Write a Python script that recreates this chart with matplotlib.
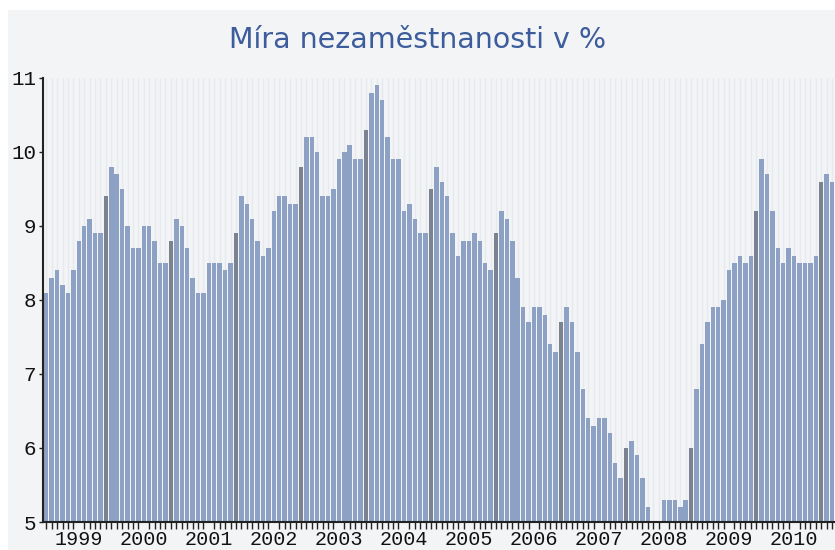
import numpy as np
import matplotlib.pyplot as plt

# monthly unemployment rate (%), Jan 1999 .. Feb 2011
rate_1999 = [8.1, 8.3, 8.4, 8.2, 8.1, 8.4, 8.8, 9.0, 9.1, 8.9, 8.9, 9.4]
rate_2000 = [9.8, 9.7, 9.5, 9.0, 8.7, 8.7, 9.0, 9.0, 8.8, 8.5, 8.5, 8.8]
rate_2001 = [9.1, 9.0, 8.7, 8.3, 8.1, 8.1, 8.5, 8.5, 8.5, 8.4, 8.5, 8.9]
rate_2002 = [9.4, 9.3, 9.1, 8.8, 8.6, 8.7, 9.2, 9.4, 9.4, 9.3, 9.3, 9.8]
rate_2003 = [10.2, 10.2, 10.0, 9.4, 9.4, 9.5, 9.9, 10.0, 10.1, 9.9, 9.9, 10.3]
rate_2004 = [10.8, 10.9, 10.7, 10.2, 9.9, 9.9, 9.2, 9.3, 9.1, 8.9, 8.9, 9.5]
rate_2005 = [9.8, 9.6, 9.4, 8.9, 8.6, 8.8, 8.8, 8.9, 8.8, 8.5, 8.4, 8.9]
rate_2006 = [9.2, 9.1, 8.8, 8.3, 7.9, 7.7, 7.9, 7.9, 7.8, 7.4, 7.3, 7.7]
rate_2007 = [7.9, 7.7, 7.3, 6.8, 6.4, 6.3, 6.4, 6.4, 6.2, 5.8, 5.6, 6.0]
rate_2008 = [6.1, 5.9, 5.6, 5.2, 5.0, 5.0, 5.3, 5.3, 5.3, 5.2, 5.3, 6.0]
rate_2009 = [6.8, 7.4, 7.7, 7.9, 7.9, 8.0, 8.4, 8.5, 8.6, 8.5, 8.6, 9.2]
rate_2010 = [9.9, 9.7, 9.2, 8.7, 8.5, 8.7, 8.6, 8.5, 8.5, 8.5, 8.6, 9.6]
rate_2011 = [9.7, 9.6]

year_labels = ['1999', '2000', '2001', '2002', '2003', '2004',
               '2005', '2006', '2007', '2008', '2009', '2010']
y_ticks = [5, 6, 7, 8, 9, 10, 11]

values = (rate_1999 + rate_2000 + rate_2001 + rate_2002 + rate_2003 + rate_2004 +
          rate_2005 + rate_2006 + rate_2007 + rate_2008 + rate_2009 + rate_2010 + rate_2011)
months = np.arange(len(values))
colors = ['#7b8391' if m % 12 == 11 else '#8ca1c4' for m in months]

fig = plt.figure(figsize=(8.35, 5.5), dpi=100)

# light grey panel behind everything
bg = fig.add_axes([8/835, 0, 1, 540/550], zorder=-1)
bg.set_facecolor('#f3f4f6')
bg.set_xticks([])
bg.set_yticks([])
for s in bg.spines.values():
    s.set_visible(False)

ax = fig.add_axes([43/835, 28/550, 792/835, 444/550], zorder=1)
ax.set_facecolor('none')
ax.vlines(months, 5, 11, color='#e6e9ee', lw=1, zorder=0)
ax.bar(months, values, width=0.82, color=colors, linewidth=0, zorder=2)

ax.set_ylim(5, 11)
ax.set_xlim(-0.6, len(values) - 0.45)

for s in ['top', 'right']:
    ax.spines[s].set_visible(False)
for s in ['left', 'bottom']:
    ax.spines[s].set_color('#222222')
    ax.spines[s].set_linewidth(1.5)

mono = 'Liberation Mono'
ax.set_yticks(y_ticks)
ax.set_yticklabels([str(v) for v in y_ticks], family=mono, fontsize=15, color='#111111')
ax.tick_params(axis='y', length=3, width=1, color='#222222', pad=2)

ax.set_xticks(np.arange(len(year_labels)) * 12 + 6)
ax.set_xticklabels(year_labels, family=mono, fontsize=14.5, color='#111111')
ax.set_xticks(months, minor=True)
ax.tick_params(axis='x', which='major', length=0, pad=6)
ax.tick_params(axis='x', which='minor', length=5, width=1, color='#222222')

fig.text(0.5, 1 - 40/550, 'Míra nezaměstnanosti v %', ha='center', va='center',
         color='#3c5c9c', fontsize=20.5, family='DejaVu Sans')

fig.savefig('out.png', dpi=100)
